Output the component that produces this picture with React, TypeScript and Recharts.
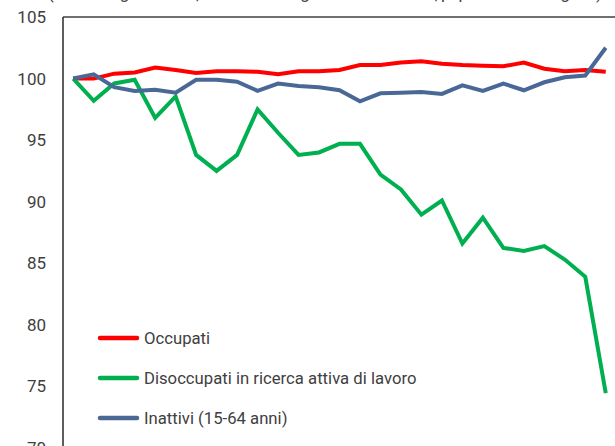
import { CartesianGrid, Legend, Line, LineChart, ReferenceLine, XAxis, YAxis } from "recharts";

const months = [
    "gen 2018", "feb 2018", "mar 2018", "apr 2018", "mag 2018", "giu 2018",
    "lug 2018", "ago 2018", "set 2018", "ott 2018", "nov 2018", "dic 2018",
    "gen 2019", "feb 2019", "mar 2019", "apr 2019", "mag 2019", "giu 2019",
    "lug 2019", "ago 2019", "set 2019", "ott 2019", "nov 2019", "dic 2019",
    "gen 2020", "feb 2020", "mar 2020",
];

const occupati = [
    100, 100.0, 100.4, 100.5, 100.9, 100.7, 100.45, 100.6, 100.6, 100.55, 100.35, 100.6,
    100.6, 100.7, 101.1, 101.1, 101.3, 101.4, 101.2, 101.1, 101.05, 101.0, 101.3, 100.8,
    100.6, 100.7, 100.55,
];

const disoccupati = [
    100, 98.2, 99.6, 99.9, 96.8, 98.55, 93.8, 92.5, 93.8, 97.5, 95.6, 93.8,
    94.0, 94.7, 94.7, 92.2, 91.0, 88.95, 90.1, 86.6, 88.7, 86.25, 86.0, 86.4,
    85.3, 83.9, 74.45,
];

const inattivi = [
    100, 100.35, 99.3, 99.0, 99.1, 98.85, 99.9, 99.9, 99.75, 99.0, 99.6, 99.4,
    99.3, 99.05, 98.15, 98.8, 98.85, 98.9, 98.75, 99.45, 99.0, 99.6, 99.05, 99.7,
    100.1, 100.25, 102.5,
];

const seriesNames = ["Occupati", "Disoccupati in ricerca attiva di lavoro", "Inattivi (15-64 anni)"];
const yTicks = [70, 75, 80, 85, 90, 95, 100, 105];
// separatori tra gli anni (a metà tra dicembre e gennaio)
const yearBreaks = [11.5, 23.5];

const data = months.map((mese, i) => ({
    idx: i,
    mese,
    occupati: occupati[i],
    disoccupati: disoccupati[i],
    inattivi: inattivi[i],
}));

function LegendBox(props: any) {
    const items = [...(props.payload || [])].sort(
        (a: any, b: any) => seriesNames.indexOf(a.value) - seriesNames.indexOf(b.value)
    );
    return (
        <div style={{ display: "flex", flexDirection: "column" }}>
            {items.map((p: any) => (
                <div key={p.value} style={{ display: "flex", alignItems: "center", height: 40 }}>
                    <svg width={48} height={10}>
                        <line x1={4} x2={41} y1={5} y2={5} stroke={p.color} strokeWidth={4.5} strokeLinecap="round" />
                    </svg>
                    <span style={{ fontSize: 16.7, color: "#404040" }}>{p.value}</span>
                </div>
            ))}
        </div>
    );
}

export default function App() {
    return (
        <div
            style={{
                position: "absolute",
                left: 0,
                top: 0,
                width: 615,
                height: 446,
                overflow: "hidden",
                background: "#fff",
                fontFamily: "Roboto, sans-serif",
            }}
        >
            <svg width={615} height={10} style={{ position: "absolute", left: 0, top: 0, overflow: "visible" }}>
                <text
                    x={48}
                    y={-1.5}
                    fontSize={17}
                    fill="#404040"
                    textLength={554}
                    lengthAdjust="spacing"
                    fontFamily="Roboto"
                >
                    (dati destagionalizzati; numeri indice: gennaio 2018 = 100; popolazione in migliaia)
                </text>
            </svg>
            <LineChart width={622} height={478} data={data} margin={{ top: 17, right: 6, left: 0, bottom: 0 }}>
                <CartesianGrid horizontal={false} stroke="#d4d4d4" strokeWidth={1.5} />
                <XAxis
                    type="number"
                    dataKey="idx"
                    domain={[-0.5, 26.5]}
                    ticks={yearBreaks}
                    tick={false}
                    tickLine={false}
                    height={30}
                    stroke="#404040"
                />
                <YAxis
                    domain={[70, 105]}
                    ticks={yTicks}
                    width={63}
                    tickLine={false}
                    tickSize={0}
                    tickMargin={17}
                    stroke="#333"
                    strokeWidth={1.5}
                    tick={{ fontSize: 17, fill: "#404040", fontFamily: "Roboto" }}
                />
                <ReferenceLine y={105} stroke="#404040" strokeWidth={1.5} />
                <Legend
                    layout="vertical"
                    align="center"
                    verticalAlign="middle"
                    content={<LegendBox />}
                    wrapperStyle={{ left: 96, top: 318, width: "auto" }}
                />
                <Line
                    dataKey="occupati"
                    name={seriesNames[0]}
                    stroke="#ff0000"
                    strokeWidth={4}
                    dot={false}
                    isAnimationActive={false}
                />
                <Line
                    dataKey="disoccupati"
                    name={seriesNames[1]}
                    stroke="#00b050"
                    strokeWidth={4}
                    dot={false}
                    isAnimationActive={false}
                />
                <Line
                    dataKey="inattivi"
                    name={seriesNames[2]}
                    stroke="#4a6896"
                    strokeWidth={4}
                    dot={false}
                    isAnimationActive={false}
                />
            </LineChart>
        </div>
    );
}
